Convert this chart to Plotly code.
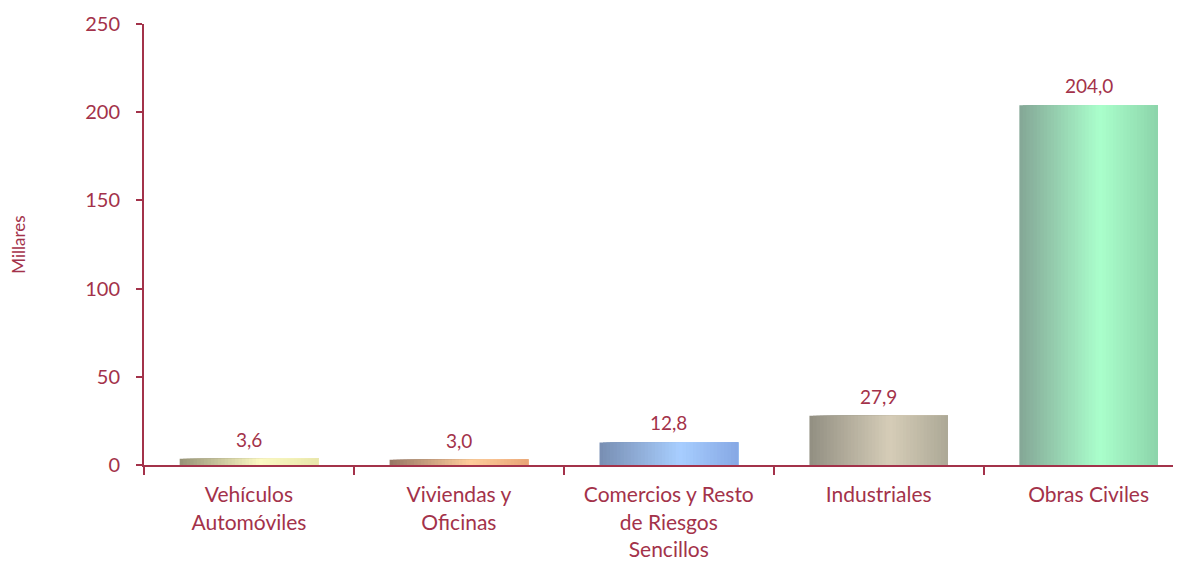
import plotly.graph_objects as go

# data
categorias = ['Vehículos<br>Automóviles', 'Viviendas y<br>Oficinas',
              'Comercios y Resto<br>de Riesgos<br>Sencillos', 'Industriales', 'Obras Civiles']
valores = [3.6, 3.0, 12.8, 27.9, 204.0]
y_ticks = [0, 50, 100, 150, 200, 250]

# gradient colours per bar: (left, peak, right)
gradientes = [
    ((150, 146, 118), (252, 250, 195), (232, 230, 170)),
    ((150, 118, 100), (255, 205, 155), (232, 165, 118)),
    ((120, 142, 178), (168, 206, 255), (134, 168, 228)),
    ((146, 143, 130), (214, 205, 184), (172, 168, 150)),
    ((132, 166, 150), (170, 255, 204), (140, 212, 170)),
]

rojo = '#A3324A'
fuente = 'Lato'

def mezcla(a, b, t):
    return tuple(round(a[k] + (b[k] - a[k]) * t) for k in range(3))

def color_en(grad, t):
    izq, pico, der = grad
    p = 0.58
    if t <= p:
        c = mezcla(izq, pico, t / p)
    else:
        c = mezcla(pico, der, (t - p) / (1 - p))
    return 'rgb(%d,%d,%d)' % c

fig = go.Figure()

# each stripe runs to the bar's right edge, later ones paint over earlier ones
ancho = 0.66
n = 40
w = ancho / n
for i in range(n):
    t = (i + 0.5) / n
    fig.add_trace(go.Bar(
        x=categorias, y=valores,
        width=ancho - i * w, offset=-ancho / 2 + i * w,
        marker=dict(color=[color_en(g, t) for g in gradientes], line=dict(width=0)),
        hoverinfo='skip', showlegend=False,
    ))

for c, v in zip(categorias, valores):
    fig.add_annotation(
        x=c, y=v, text=('%.1f' % v).replace('.', ','), showarrow=False,
        yanchor='bottom', yshift=6,
        font=dict(family=fuente, size=19, color=rojo),
    )

# page body has an 8px margin, so the figure is a bit smaller than the window
fig.update_layout(
    width=1173, height=554,
    margin=dict(l=136, r=0, t=16, b=97),
    plot_bgcolor='white', paper_bgcolor='white',
    barmode='overlay',
    font=dict(family=fuente, size=20, color=rojo),
    xaxis=dict(
        range=[-0.5, 4.44], showline=True, linecolor=rojo, linewidth=2,
        ticks='outside', tickson='boundaries', ticklen=8, tickcolor=rojo, tickwidth=2,
        tickfont=dict(family=fuente, size=21, color=rojo), showgrid=False,
        automargin=False, ticklabelstandoff=10,
    ),
    yaxis=dict(
        range=[0, 250], tickvals=y_ticks, showline=True, linecolor=rojo, linewidth=2,
        ticks='outside', ticklen=6, tickcolor=rojo, tickwidth=2, showgrid=False, zeroline=False,
        tickfont=dict(family=fuente, size=20, color=rojo), ticklabelstandoff=12,
        automargin=False,
        title=dict(text='Millares', font=dict(family=fuente, size=17, color=rojo), standoff=55),
    ),
)

fig.write_html('out.html')
